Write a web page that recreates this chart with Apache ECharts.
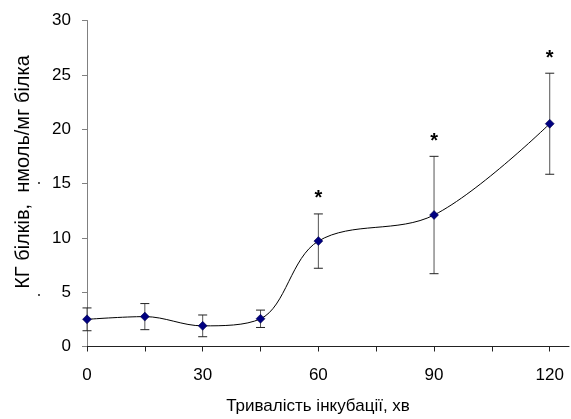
<!DOCTYPE html>
<html>
<head>
<meta charset="utf-8">
<script src="https://cdn.jsdelivr.net/npm/echarts@6.0.0/dist/echarts.min.js"></script>
<style>
  html, body { margin: 0; padding: 0; background: #fff; }
  #main { width: 571px; height: 419px; }
</style>
</head>
<body>
<div id="main"></div>
<script>
// тривалість інкубації, хв
const times = [0, 15, 30, 45, 60, 90, 120]
// середнє значення КГ білків
const means = [2.5, 2.75, 1.9, 2.55, 9.7, 12.1, 20.5]
// похибка (±)
const errors = [1.05, 1.2, 1.0, 0.8, 2.5, 5.4, 4.65]
// достовірна різниця (*)
const signif = [false, false, false, false, true, true, true]

const xTicks = [0, 15, 30, 45, 60, 75, 90, 105, 120]
const xLabels = [0, 30, 60, 90, 120]

const xTitle = 'Тривалість інкубації, хв'
const yTitle = 'КГ білків,  нмоль/мг білка'

const font = 'Liberation Sans, Arial, sans-serif'

const chart = echarts.init(document.getElementById('main'))

const errData = times.map((t, i) => [t, means[i] - errors[i], means[i] + errors[i], signif[i] ? 1 : 0])

const option = {
  animation: false,
  grid: {
    left: 87,
    right: 2,
    top: 20.5,
    bottom: 72.5,
    outerBoundsMode: 'none'
  },
  xAxis: {
    type: 'value',
    min: 0,
    max: 125,
    interval: 15,
    axisLine: { lineStyle: { color: '#222', width: 1 } },
    axisTick: { show: true, length: 5, inside: false, customValues: xTicks, lineStyle: { color: '#222' } },
    axisLabel: { customValues: xLabels, fontFamily: font, fontSize: 17, color: '#000', margin: 20 },
    splitLine: { show: false }
  },
  yAxis: {
    type: 'value',
    min: 0,
    max: 30,
    interval: 5,
    axisLine: { show: true, lineStyle: { color: '#808080', width: 1 } },
    axisTick: { show: true, length: 5, inside: false, lineStyle: { color: '#808080' } },
    axisLabel: { fontFamily: font, fontSize: 17, color: '#000', margin: 16 },
    splitLine: { show: false }
  },
  graphic: [
    {
      type: 'text',
      x: 318,
      y: 406,
      style: { text: xTitle, font: '17px ' + font, fill: '#000', align: 'center', verticalAlign: 'middle' }
    },
    {
      type: 'text',
      x: 23,
      y: 172,
      rotation: Math.PI / 2,
      style: { text: yTitle, font: '20px ' + font, fill: '#000', align: 'center', verticalAlign: 'middle' }
    },
    { type: 'circle', shape: { cx: 39, cy: 183, r: 0.9 }, style: { fill: '#000' } },
    { type: 'circle', shape: { cx: 39, cy: 295, r: 0.9 }, style: { fill: '#000' } }
  ],
  series: [
    {
      type: 'custom',
      name: 'errors',
      data: errData,
      z: 2,
      renderItem (params, api) {
        const x = api.value(0)
        const lo = api.coord([x, api.value(1)])
        const hi = api.coord([x, api.value(2)])
        const cap = 4.5
        const children = [
          { type: 'line', shape: { x1: hi[0], y1: hi[1], x2: lo[0], y2: lo[1] }, style: { stroke: '#555', lineWidth: 1 } },
          { type: 'line', shape: { x1: hi[0] - cap, y1: hi[1], x2: hi[0] + cap, y2: hi[1] }, style: { stroke: '#222', lineWidth: 1 } },
          { type: 'line', shape: { x1: lo[0] - cap, y1: lo[1], x2: lo[0] + cap, y2: lo[1] }, style: { stroke: '#222', lineWidth: 1 } }
        ]
        if (api.value(3)) {
          children.push({
            type: 'text',
            style: {
              x: hi[0],
              y: hi[1] - 15,
              text: '*',
              font: 'bold 20px ' + font,
              fill: '#000',
              align: 'center',
              verticalAlign: 'middle'
            }
          })
        }
        return { type: 'group', children }
      }
    },
    {
      type: 'line',
      name: 'КГ',
      data: times.map((t, i) => [t, means[i]]),
      smooth: 0.35,
      z: 3,
      symbol: 'diamond',
      symbolSize: 9,
      lineStyle: { color: '#000', width: 1 },
      itemStyle: { color: '#000080', borderColor: '#000040', borderWidth: 0.5 }
    }
  ]
}

option && chart.setOption(option)
</script>
</body>
</html>
